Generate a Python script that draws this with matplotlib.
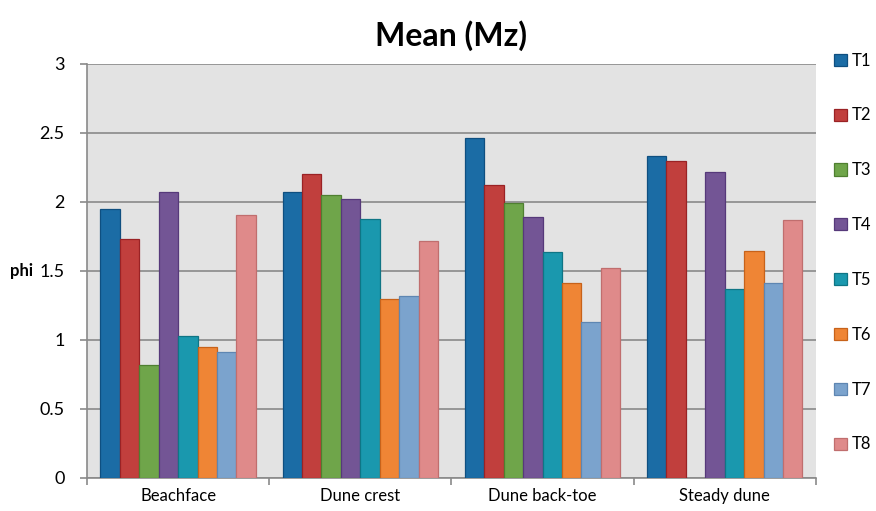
import numpy as np
import matplotlib
matplotlib.use('Agg')
import matplotlib.pyplot as plt
from matplotlib import rcParams

rcParams['font.family'] = ['Lato', 'DejaVu Sans']

# data
categories = ['Beachface', 'Dune crest', 'Dune back-toe', 'Steady dune']
series = ['T1', 'T2', 'T3', 'T4', 'T5', 'T6', 'T7', 'T8']
T1 = [1.95, 2.07, 2.46, 2.33]
T2 = [1.73, 2.20, 2.12, 2.30]
T3 = [0.82, 2.05, 1.99, np.nan]
T4 = [2.07, 2.02, 1.89, 2.22]
T5 = [1.03, 1.88, 1.635, 1.37]
T6 = [0.95, 1.30, 1.41, 1.645]
T7 = [0.915, 1.32, 1.13, 1.41]
T8 = [1.905, 1.72, 1.52, 1.87]
values = [T1, T2, T3, T4, T5, T6, T7, T8]

faces = ['#1B6CA5', '#C13F3D', '#6FA54A', '#735595', '#1A98AE', '#EF8535', '#7BA3CD', '#DF8A8A']
edges = ['#0F4F80', '#9A2225', '#4F7F30', '#56397A', '#0F7585', '#C7621A', '#5E86B2', '#C06E6E']

fig = plt.figure(figsize=(8.76, 5.11), dpi=100)
ax = fig.add_axes([0.0993, 0.0646, 0.832, 0.8102])
ax.set_facecolor('#E3E3E3')

x = np.arange(len(categories))
w = 0.1066
for i, (name, vals) in enumerate(zip(series, values)):
    ax.bar(x + (i - 3.5) * w, vals, width=w, color=faces[i], edgecolor=edges[i],
           linewidth=0.9, label=name, zorder=3)

ax.set_xlim(-0.5, len(categories) - 0.5)
ax.set_ylim(0, 3)
ax.set_yticks(np.arange(0, 3.01, 0.5))
ax.set_yticklabels(['0', '0.5', '1', '1.5', '2', '2.5', '3'], fontsize=13)
ax.yaxis.grid(True, color='#8A8A8A', linewidth=1.2, zorder=0)
ax.set_axisbelow(True)

ax.set_xticks(x)
ax.set_xticklabels(categories, fontsize=12)
ax.set_xticks(np.arange(-0.5, len(categories)), minor=True)
ax.tick_params(axis='x', which='major', length=0, pad=7)
ax.tick_params(axis='x', which='minor', length=5, color='#8A8A8A', width=1.2)
ax.tick_params(axis='y', length=5, color='#8A8A8A', width=1.2, pad=11)

for s in ['top', 'right']:
    ax.spines[s].set_visible(False)
for s in ['left', 'bottom']:
    ax.spines[s].set_color('#8A8A8A')
    ax.spines[s].set_linewidth(1.2)

ax.set_ylabel('phi', rotation=0, fontsize=12, fontweight='bold', labelpad=13, va='center')
ax.set_title('Mean (Mz)', fontsize=23, fontweight='bold', pad=13)

fig.legend(loc='upper left', bbox_to_anchor=(0.945, 0.91), frameon=False, fontsize=12,
           handlelength=0.75, handleheight=0.75, handletextpad=0.3, labelspacing=2.33,
           borderaxespad=0)

plt.savefig('out.png', dpi=100)
